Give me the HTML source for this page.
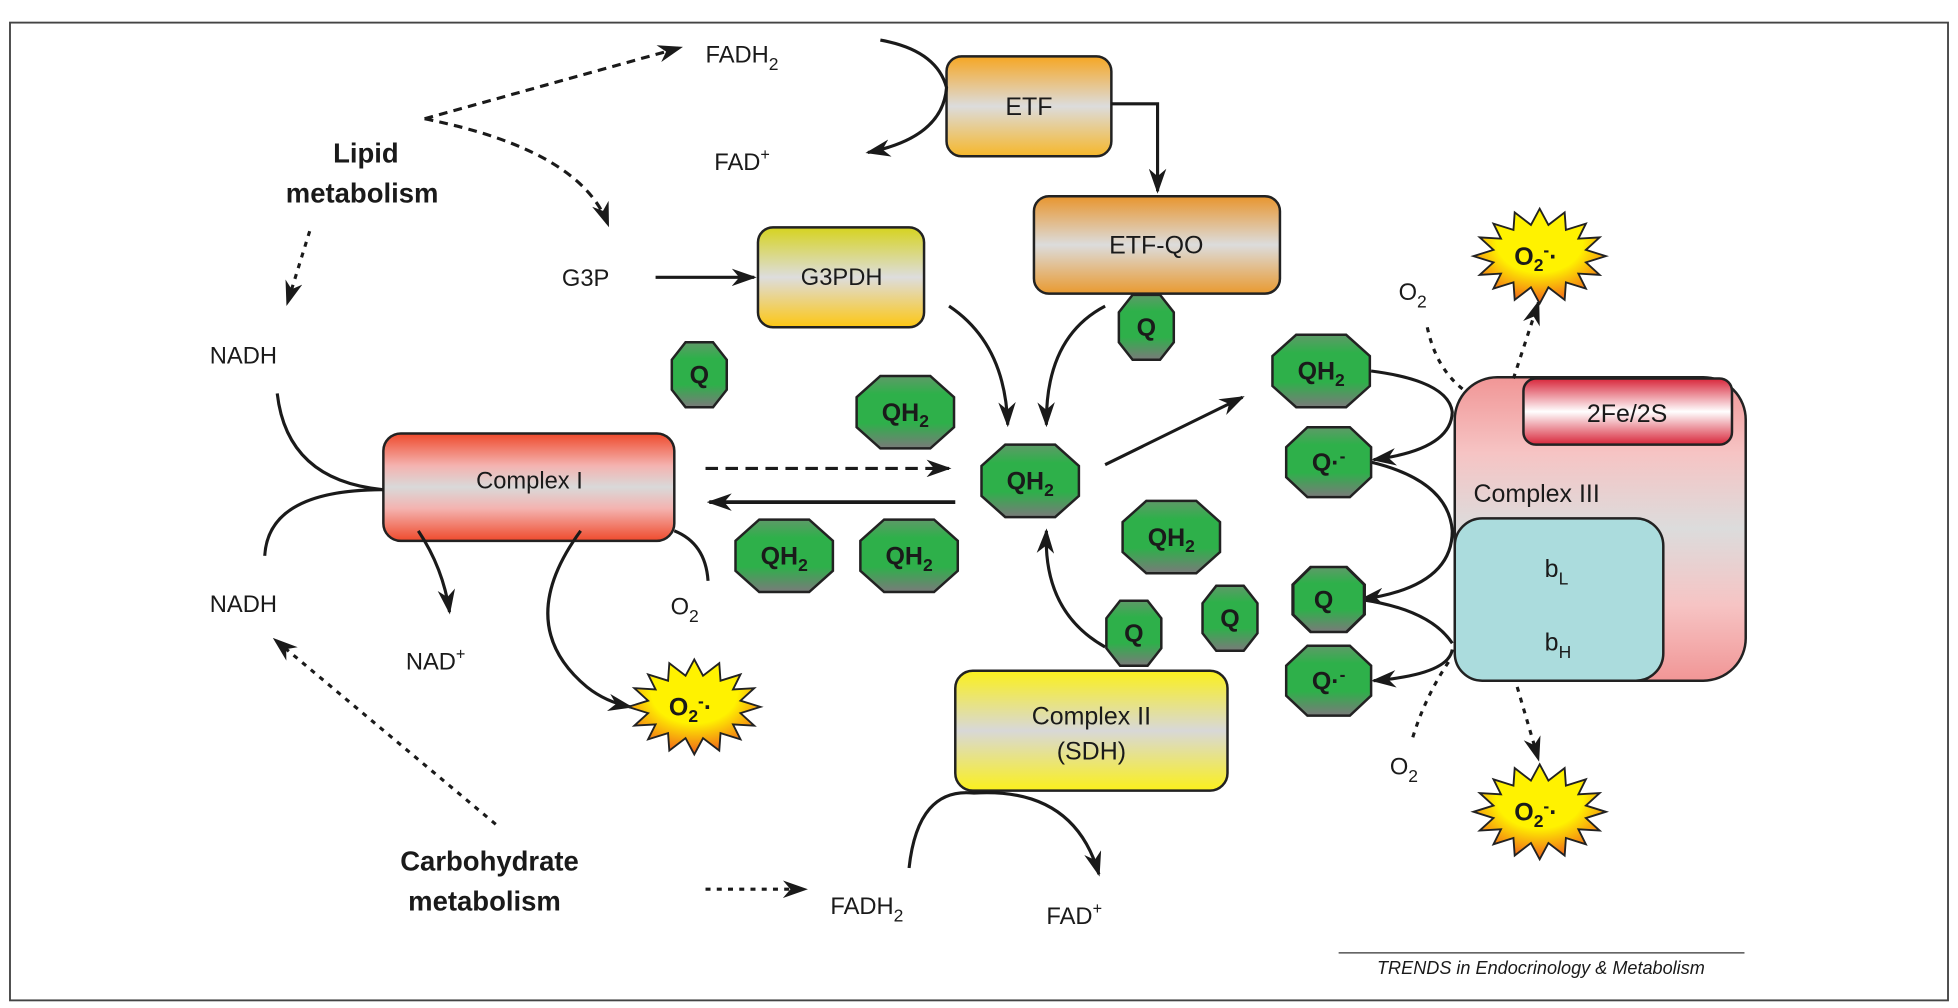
<!DOCTYPE html>
<html><head><meta charset="utf-8"><style>
html,body{margin:0;padding:0;background:#fff;}
svg{display:block;}
text{font-family:"Liberation Sans",Arial,sans-serif;fill:#1a1a1a;}
</style></head><body>
<svg width="1958" height="1008" viewBox="0 0 1568 807" xmlns="http://www.w3.org/2000/svg">
<defs>
<marker id="ah" viewBox="0 0 20 14" refX="18" refY="7" markerWidth="20" markerHeight="14" markerUnits="userSpaceOnUse" orient="auto">
<path d="M0,0 L20,7 L0,14 L6,7 Z" fill="#1a1a1a"/></marker>
<linearGradient id="gOct" x1="0" y1="0" x2="0" y2="1">
<stop offset="0" stop-color="#5e9a68"/><stop offset=".25" stop-color="#2eb04a"/><stop offset=".65" stop-color="#2eb04a"/><stop offset="1" stop-color="#7a7a7a"/></linearGradient>
<linearGradient id="gRed" x1="0" y1="0" x2="0" y2="1">
<stop offset="0" stop-color="#ef4a2c"/><stop offset=".3" stop-color="#f4b3b0"/><stop offset=".5" stop-color="#d9d9d9"/><stop offset=".7" stop-color="#f4b3b0"/><stop offset="1" stop-color="#ef4a2c"/></linearGradient>
<linearGradient id="gOr" x1="0" y1="0" x2="0" y2="1">
<stop offset="0" stop-color="#f6a623"/><stop offset=".5" stop-color="#dcdcdc"/><stop offset="1" stop-color="#f6b72a"/></linearGradient>
<linearGradient id="gEQ" x1="0" y1="0" x2="0" y2="1">
<stop offset="0" stop-color="#e8952e"/><stop offset=".5" stop-color="#dcdcdc"/><stop offset="1" stop-color="#e99a30"/></linearGradient>
<linearGradient id="gG3" x1="0" y1="0" x2="0" y2="1">
<stop offset="0" stop-color="#d6d31f"/><stop offset=".5" stop-color="#dddddd"/><stop offset="1" stop-color="#fdc712"/></linearGradient>
<linearGradient id="gY" x1="0" y1="0" x2="0" y2="1">
<stop offset="0" stop-color="#fbf01c"/><stop offset=".5" stop-color="#d8d8d8"/><stop offset="1" stop-color="#fbf01c"/></linearGradient>
<linearGradient id="gPink" x1="0" y1="0" x2="0" y2="1">
<stop offset="0" stop-color="#f19696"/><stop offset=".25" stop-color="#f6c4c4"/><stop offset=".5" stop-color="#dcdcdc"/><stop offset=".75" stop-color="#f6c4c4"/><stop offset="1" stop-color="#f19696"/></linearGradient>
<linearGradient id="gFe" x1="0" y1="0" x2="0" y2="1">
<stop offset="0" stop-color="#d8263a"/><stop offset=".5" stop-color="#ffffff"/><stop offset="1" stop-color="#d8263a"/></linearGradient>
<radialGradient id="gStar" cx=".5" cy=".35" r=".65">
<stop offset="0" stop-color="#fff200"/><stop offset=".5" stop-color="#fff200"/><stop offset="1" stop-color="#f0601a"/></radialGradient>
<polygon id="octB" points="-20,-29 20,-29 39,-12 39,12 20,29 -20,29 -39,12 -39,-12" fill="url(#gOct)" stroke="#222" stroke-width="2"/>
<polygon id="octM" points="-17,-28 17,-28 34,-12 34,12 17,28 -17,28 -34,12 -34,-12" fill="url(#gOct)" stroke="#222" stroke-width="2"/>
<polygon id="octS" points="-11,-26 11,-26 22,-12 22,12 11,26 -11,26 -22,12 -22,-12" fill="url(#gOct)" stroke="#222" stroke-width="2"/>
<polygon id="star" fill="url(#gStar)" stroke="#222" stroke-width="1.5" points="53,0 37,5 48,15 31,14 37,26 21,21 20,35 7,25 0,38 -7,25 -20,35 -21,21 -37,26 -31,14 -48,15 -37,5 -53,0 -37,-5 -48,-15 -31,-14 -37,-26 -21,-21 -20,-35 -7,-25 0,-38 7,-25 20,-35 21,-21 37,-26 31,-14 48,-15 37,-5"/>
</defs>

<rect x="8" y="18" width="1552" height="783" fill="none" stroke="#444" stroke-width="1.5"/>

<rect x="758" y="45" width="132" height="80" rx="12" fill="url(#gOr)" stroke="#222" stroke-width="2"/>
<text x="824" y="92" font-size="20" text-anchor="middle">ETF</text>
<rect x="828" y="157" width="197" height="78" rx="12" fill="url(#gEQ)" stroke="#222" stroke-width="2"/>
<text x="926" y="203" font-size="20" text-anchor="middle">ETF-QO</text>
<rect x="607" y="182" width="133" height="80" rx="12" fill="url(#gG3)" stroke="#222" stroke-width="2"/>
<text x="674" y="228" font-size="19" text-anchor="middle">G3PDH</text>
<rect x="307" y="347" width="233" height="86" rx="14" fill="url(#gRed)" stroke="#222" stroke-width="2"/>
<text x="424" y="391" font-size="19" text-anchor="middle">Complex I</text>
<rect x="765" y="537" width="218" height="96" rx="14" fill="url(#gY)" stroke="#222" stroke-width="2"/>
<text x="874" y="580" font-size="20" text-anchor="middle">Complex II</text>
<text x="874" y="608" font-size="20" text-anchor="middle">(SDH)</text>
<rect x="1165" y="302" width="233" height="243" rx="34" fill="url(#gPink)" stroke="#222" stroke-width="2"/>
<rect x="1220" y="303" width="167" height="53" rx="10" fill="url(#gFe)" stroke="#222" stroke-width="2"/>
<text x="1303" y="338" font-size="20" text-anchor="middle">2Fe/2S</text>
<text x="1180" y="402" font-size="20">Complex III</text>
<rect x="1165" y="415" width="167" height="130" rx="22" fill="#abdcdd" stroke="#222" stroke-width="2"/>
<text x="1237" y="462" font-size="20">b<tspan font-size="14" dy="6">L</tspan></text>
<text x="1237" y="521" font-size="20">b<tspan font-size="14" dy="6">H</tspan></text>

<g fill="none" stroke="#1a1a1a" stroke-width="2.5">
<path d="M340,95 L545,38" stroke-dasharray="7,5" marker-end="url(#ah)"/>
<path d="M340,95 Q465,120 487,180" stroke-dasharray="7,5" marker-end="url(#ah)"/>
<path d="M248,185 L230,243" stroke-dasharray="4,5" marker-end="url(#ah)"/>
<path d="M705,32 Q750,40 758,70 Q755,110 695,122" marker-end="url(#ah)"/>
<path d="M890,83 L927,83 L927,153" marker-end="url(#ah)"/>
<path d="M525,222 L604,222" marker-end="url(#ah)"/>
<path d="M760,245 Q805,275 807,340" marker-end="url(#ah)"/>
<path d="M885,245 Q837,270 838,340" marker-end="url(#ah)"/>
<path d="M885,372 L995,318" marker-end="url(#ah)"/>
<path d="M565,375 L760,375" stroke-dasharray="10,6" marker-end="url(#ah)"/>
<path d="M765,402 L568,402" stroke-width="3" marker-end="url(#ah)"/>
<path d="M885,518 Q835,490 838,425" marker-end="url(#ah)"/>
<path d="M222,315 Q230,385 307,392"/>
<path d="M212,445 Q215,392 307,392"/>
<path d="M335,425 Q355,455 360,490" marker-end="url(#ah)"/>
<path d="M465,425 Q410,500 470,550 Q485,562 505,566" marker-end="url(#ah)"/>
<path d="M540,425 Q565,435 567,465"/>
<path d="M728,695 Q735,630 780,635 Q860,630 880,700" marker-end="url(#ah)"/>
<path d="M397,660 L220,512" stroke-dasharray="4,5" marker-end="url(#ah)"/>
<path d="M565,712 L645,712" stroke-dasharray="4,5" marker-end="url(#ah)"/>
<path d="M1098,297 Q1160,305 1163,330 Q1162,360 1100,368" marker-end="url(#ah)"/>
<path d="M1098,370 Q1160,385 1163,425 Q1163,470 1090,480" marker-end="url(#ah)"/>
<path d="M1090,480 Q1145,488 1163,515"/>
<path d="M1163,520 Q1160,540 1100,545" marker-end="url(#ah)"/>
<path d="M1143,262 Q1150,295 1172,312" stroke-dasharray="4,5"/>
<path d="M1212,303 L1232,242" stroke-dasharray="4,5" marker-end="url(#ah)"/>
<path d="M1215,550 L1232,608" stroke-dasharray="4,5" marker-end="url(#ah)"/>
<path d="M1160,530 Q1140,560 1130,595" stroke-dasharray="4,5"/>
</g>

<g font-weight="bold" text-anchor="middle" font-size="20">
<use href="#octS" x="560" y="300"/><text x="560" y="307">Q</text>
<use href="#octS" x="918" y="262"/><text x="918" y="269">Q</text>
<use href="#octS" x="908" y="507"/><text x="908" y="514">Q</text>
<use href="#octS" x="985" y="495"/><text x="985" y="502">Q</text>
<use href="#octB" x="725" y="330"/><text x="725" y="337">QH<tspan font-size="14" dy="5">2</tspan></text>
<use href="#octB" x="825" y="385"/><text x="825" y="392">QH<tspan font-size="14" dy="5">2</tspan></text>
<use href="#octB" x="628" y="445"/><text x="628" y="452">QH<tspan font-size="14" dy="5">2</tspan></text>
<use href="#octB" x="728" y="445"/><text x="728" y="452">QH<tspan font-size="14" dy="5">2</tspan></text>
<use href="#octB" x="938" y="430"/><text x="938" y="437">QH<tspan font-size="14" dy="5">2</tspan></text>
<use href="#octB" x="1058" y="297"/><text x="1058" y="304">QH<tspan font-size="14" dy="5">2</tspan></text>
<use href="#octM" x="1064" y="370"/><text x="1064" y="377">Q·<tspan font-size="14" dy="-7">-</tspan></text>
<use href="#octS" x="1064" y="480" transform="translate(1064,480) scale(1.3,1) translate(-1064,-480)"/><text x="1060" y="487">Q</text>
<use href="#octM" x="1064" y="545"/><text x="1064" y="552">Q·<tspan font-size="14" dy="-7">-</tspan></text>
</g>

<g font-weight="bold" font-size="20" text-anchor="middle">
<use href="#star" x="1233" y="205"/><text x="1230" y="212">O<tspan font-size="14" dy="5">2</tspan><tspan font-size="14" dy="-12">-</tspan><tspan dy="7">·</tspan></text>
<use href="#star" x="556" y="566"/><text x="553" y="573">O<tspan font-size="14" dy="5">2</tspan><tspan font-size="14" dy="-12">-</tspan><tspan dy="7">·</tspan></text>
<use href="#star" x="1233" y="650"/><text x="1230" y="657">O<tspan font-size="14" dy="5">2</tspan><tspan font-size="14" dy="-12">-</tspan><tspan dy="7">·</tspan></text>
</g>

<g font-size="19">
<text x="565" y="50">FADH<tspan font-size="14" dy="6">2</tspan></text>
<text x="572" y="136">FAD<tspan font-size="13" dy="-8">+</tspan></text>
<text x="450" y="229">G3P</text>
<text x="168" y="291">NADH</text>
<text x="168" y="490">NADH</text>
<text x="325" y="536">NAD<tspan font-size="13" dy="-8">+</tspan></text>
<text x="537" y="492">O<tspan font-size="14" dy="6">2</tspan></text>
<text x="1120" y="240">O<tspan font-size="14" dy="6">2</tspan></text>
<text x="1113" y="620">O<tspan font-size="14" dy="6">2</tspan></text>
<text x="665" y="732">FADH<tspan font-size="14" dy="6">2</tspan></text>
<text x="838" y="740">FAD<tspan font-size="13" dy="-8">+</tspan></text>
</g>
<g font-size="22" font-weight="bold" text-anchor="middle">
<text x="293" y="130">Lipid</text>
<text x="290" y="162">metabolism</text>
<text x="392" y="697">Carbohydrate</text>
<text x="388" y="729">metabolism</text>
</g>
<line x1="1072" y1="763" x2="1397" y2="763" stroke="#333" stroke-width="1"/>
<text x="1234" y="780" font-size="14.5" font-style="italic" text-anchor="middle">TRENDS in Endocrinology &amp; Metabolism</text>
</svg>
</body></html>
